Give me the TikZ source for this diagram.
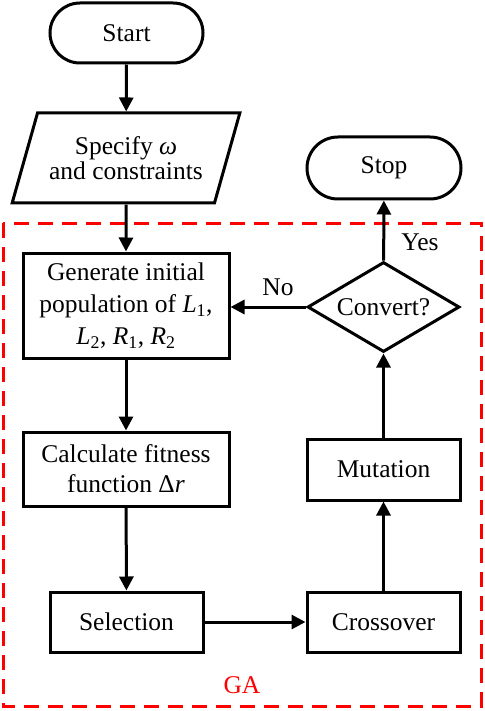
\documentclass[tikz,border=0pt]{standalone}
\usepackage{fontspec}
\setmainfont{Liberation Serif}
\usetikzlibrary{shapes.geometric,shapes.misc,arrows.meta}

\begin{document}
\begin{tikzpicture}[x=1pt,y=-1pt]
\tikzset{every node/.style={font=\fontsize{25.5}{31}\selectfont, align=center},
  terminal/.style={draw, rounded rectangle, line width=3pt, inner sep=0pt, minimum width=153pt, minimum height=60pt},
  inout/.style={draw, trapezium, trapezium left angle=63, trapezium right angle=117, trapezium stretches=true, line width=3pt, inner sep=0pt, minimum width=228pt, minimum height=90pt},
  process/.style={draw, rectangle, line width=3pt, inner sep=0pt, minimum width=153pt, minimum height=60pt},
  decision/.style={draw, diamond, aspect=1.69, line width=3pt, inner sep=0pt, minimum width=152pt, minimum height=90pt},
  flow/.style={line width=3pt, -{Triangle[length=14pt,width=14pt]}},
  gabox/.style={draw=red, line width=3pt, dash pattern=on 15pt off 9pt}}
\useasboundingbox (0,0) rectangle (484,711);

% GA region
\draw[gabox] (3,223) rectangle (481,706);
\node[text=red] (ga) at (242,685) {GA};

% main chain
\node[terminal] (start) at (126.5,33) {Start};
\node[inout, font=\fontsize{25.5}{25}\selectfont] (spec) at (126,158) {Specify \textit{ω}\\and constraints};
\node[process, minimum width=206pt, minimum height=105pt, font=\fontsize{25.5}{32}\selectfont] (gen) at (126,305.5)
  {Generate initial\\population of \textit{L}\textsubscript{1},\\\textit{L}\textsubscript{2}, \textit{R}\textsubscript{1}, \textit{R}\textsubscript{2}};
\node[process, minimum width=206pt, minimum height=74pt, font=\fontsize{25.5}{30}\selectfont] (calc) at (126,469) {Calculate fitness\\function Δ\textit{r}};
\node[process] (sel) at (126.5,622) {Selection};
\node[process] (cross) at (383.5,622) {Crossover};
\node[process, minimum height=61pt] (mut) at (383.5,469.5) {Mutation};
\node[decision] (conv) at (383.5,307) {Convert?};
\node[terminal, minimum width=154pt, minimum height=62pt] (stop) at (384,168) {Stop};

% labels
\node (yes) at (420,242) {Yes};
\node (no) at (278,287) {No};

% connectors
\draw[flow] (start) -- (spec);
\draw[flow] (spec) -- (gen);
\draw[flow] (gen) -- (calc);
\draw[flow] (calc) -- (sel);
\draw[flow] (sel) -- (cross);
\draw[flow] (cross) -- (mut);
\draw[flow] (mut) -- (conv);
\draw[flow] (conv) -- (stop);
\draw[flow] (conv.west) -- (conv.west -| gen.east);
\end{tikzpicture}
\end{document}
